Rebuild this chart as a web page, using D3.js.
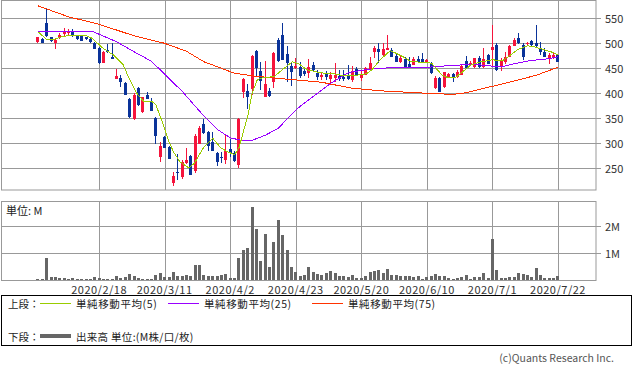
<!DOCTYPE html>
<html>
<head>
<meta charset="utf-8">
<script src="https://cdn.jsdelivr.net/npm/d3@7"></script>
<style>
body { margin: 0; background: #fff; }
text { font-family: "Noto Sans CJK JP", "Noto Sans", sans-serif; }
</style>
</head>
<body>
<div id="chart"></div>
<script>
// daily candles, index 0 = first trading day shown
const opens = [503,509,541,512,501,510,519,521,522,515,515,512,508,501,491,461,487,472,429,431,
  421,389,348,410,363,397,383,350,273,313,293,221,243,232,260,275,245,299,339,322,
  303,281,273,267,288,280,257,403,405,408,485,445,393,405,423,506,517,479,455,450,
  453,445,440,457,440,432,439,429,430,435,432,436,426,449,430,437,447,482,489,477,
  487,487,475,462,469,459,457,469,469,461,460,410,430,412,432,439,432,437,465,459,
  452,470,452,477,487,497,452,463,473,495,511,497,498,505,501,490,483,470,470,477];
const highs = [512,510,571,513,508,520,531,529,528,516,516,513,510,503,492,484,499,500,449,436,
  423,391,400,412,393,403,390,352,303,315,295,242,278,267,291,277,318,335,349,324,
  323,283,283,317,308,284,350,430,419,477,487,463,465,411,483,510,541,495,463,470,
  462,451,468,463,447,443,445,443,461,447,447,457,455,453,445,453,472,495,500,500,
  517,490,480,475,473,472,473,475,480,468,463,435,432,443,440,441,446,456,475,465,
  471,475,490,478,537,500,470,482,496,510,521,500,503,507,537,503,490,480,480,479];
const lows = [500,500,512,503,488,509,515,516,513,507,504,506,501,488,459,460,480,469,428,412,
  396,350,347,375,360,388,364,298,263,290,268,215,227,228,258,236,240,298,318,285,
  284,255,261,259,273,262,251,391,369,397,433,407,392,393,411,462,466,422,415,448,
  430,435,430,443,427,427,427,420,423,425,425,427,423,436,425,436,446,470,460,475,
  486,472,462,461,452,450,456,462,462,460,438,409,402,411,431,423,431,436,449,458,
  451,451,451,458,453,445,445,458,472,494,499,467,496,495,493,477,472,459,468,463];
const closes = [512,501,515,504,507,517,525,523,515,508,505,508,503,489,460,483,482,469,435,423,
  397,352,397,377,392,389,365,315,295,291,269,235,240,262,267,237,315,331,320,294,
  285,263,272,285,281,265,349,429,393,475,451,425,419,395,481,465,467,460,443,455,
  435,439,453,447,432,437,432,436,437,429,428,429,445,437,439,450,461,491,482,489,
  491,473,463,470,453,453,469,463,463,467,440,430,403,442,439,430,443,455,450,461,
  470,452,468,459,493,447,467,473,495,507,500,473,501,497,495,483,473,477,477,463];
// volume, millions of shares
const volumes = [0.05,0.05,0.83,0.12,0.12,0.10,0.09,0.06,0.09,0.06,0.03,0.03,0.06,0.12,0.09,0.06,0.06,0.06,0.16,0.10,
  0.13,0.23,0.16,0.09,0.06,0.05,0.05,0.20,0.27,0.12,0.12,0.31,0.17,0.17,0.20,0.17,0.57,0.57,0.19,0.17,
  0.17,0.15,0.21,0.23,0.09,0.09,0.83,1.11,1.20,2.70,1.89,0.71,1.71,0.49,1.41,2.22,1.67,1.10,0.49,0.30,
  0.16,0.19,0.48,0.30,0.22,0.20,0.27,0.33,0.27,0.17,0.15,0.11,0.19,0.10,0.09,0.15,0.30,0.35,0.37,0.27,
  0.41,0.19,0.19,0.17,0.16,0.15,0.11,0.15,0.03,0.12,0.17,0.22,0.14,0.15,0.09,0.05,0.10,0.12,0.19,0.05,
  0.12,0.12,0.25,0.09,1.52,0.37,0.10,0.07,0.12,0.12,0.25,0.22,0.19,0.12,0.45,0.19,0.10,0.10,0.10,0.15];

// moving averages: [index, value]
const ma5 = [[0,523],[2,508],[3.5,507],[5,512],[7.3,516],[9.6,516],[11.1,515],[12.4,510],[13.4,502],
  [14.9,490],[17.2,477],[19.5,457],[21,427],[22.6,400],[24.2,384],[26,384],[27,377],[28.7,337],
  [30,303],[31,283],[32.5,263],[34.5,251],[35.8,260],[38,293],[40,310],[41.8,291],[43.4,283],
  [45,277],[46.1,293],[47.1,327],[48,353],[49,400],[50.2,427],[51.7,432],[54,433],[55.9,447],
  [58.2,463],[59.7,459],[61.6,447],[64.7,441],[67.7,439],[70,435],[71.8,435],[75.2,439],[76.4,447],
  [78.3,467],[80.6,485],[81.7,481],[83.6,473],[85.5,463],[89,462],[90.1,460],[92.4,437],[93.9,431],
  [95.6,432],[97.2,443],[99.1,457],[101.4,463],[104,467],[106.3,465],[108.2,477],[109.7,487],
  [112,495],[113.6,493],[115.5,488],[117.4,483],[119,477]];
const ma25 = [[0,524],[12.5,524],[14,518],[18,503],[22,483],[26,464],[29,438],[33,404],[37,364],
  [41,328],[44,311],[47,305],[49,306],[52,316],[55,330],[58,358],[60,374],[64,400],[67,420],
  [71,441],[74,446],[77,449],[82,452],[89,452],[95,456],[100,458],[103,455],[106,453],[109,459],
  [113,466],[116,468],[119,473]];
const ma75 = [[0,575],[7,553],[14,538],[22,515],[29,500],[34,484],[38,463],[42,450],[45,440],
  [50,434],[56,429],[60,426],[65,422],[69,415],[72,410],[76,407],[80,404],[85,402],[90,399.5],
  [95,398],[98,401],[102,410],[106,418],[110,427],[114,436],[119,452]];

const tickIndex = [14, 29, 44, 59, 74, 89, 104, 119];
const tickLabels = ['2020/2/18', '2020/3/11', '2020/4/2', '2020/4/23', '2020/5/20', '2020/6/10', '2020/7/1', '2020/7/22'];
const priceTicks = [250, 300, 350, 400, 450, 500, 550];
const volumeTicks = [1, 2];

const UP = '#f5143c', DOWN = '#0a3399', GRID = '#999';

function drawChart() {
    const svg = d3.select('#chart')
        .append('svg')
        .attr('width', 633)
        .attr('height', 373);

    const x = d3.scaleLinear().domain([-8.45, 127.7]).range([1, 596]);
    const y = d3.scaleLinear().domain([206.6, 586.6]).range([190, 0]);
    const yv = d3.scaleLinear().domain([0, 2.88]).range([280.3, 201.7]);

    // --- main panel frame & grid
    const grid = svg.append('g').attr('stroke', GRID).attr('stroke-width', 1).attr('fill', 'none');
    grid.append('rect').attr('x', 1.5).attr('y', 0.5).attr('width', 594.5).attr('height', 189.5);
    grid.selectAll('.hg')
        .data(priceTicks)
        .enter()
        .append('line')
        .attr('x1', 1.5).attr('x2', 601)
        .attr('y1', d => Math.round(y(d)) + 0.5)
        .attr('y2', d => Math.round(y(d)) + 0.5);
    grid.selectAll('.vg')
        .data(tickIndex)
        .enter()
        .append('line')
        .attr('x1', d => Math.round(x(d)) + 0.5)
        .attr('x2', d => Math.round(x(d)) + 0.5)
        .attr('y1', 0).attr('y2', 190);

    // --- volume panel frame & grid
    grid.append('rect').attr('x', 1.5).attr('y', 201.5).attr('width', 594.5).attr('height', 79);
    grid.selectAll('.vhg')
        .data(volumeTicks)
        .enter()
        .append('line')
        .attr('x1', 1.5).attr('x2', 601)
        .attr('y1', d => Math.round(yv(d)) + 0.5)
        .attr('y2', d => Math.round(yv(d)) + 0.5);
    grid.selectAll('.vvg')
        .data(tickIndex)
        .enter()
        .append('line')
        .attr('x1', d => Math.round(x(d)) + 0.5)
        .attr('x2', d => Math.round(x(d)) + 0.5)
        .attr('y1', 201.5).attr('y2', 280.5);

    // --- candles
    const candles = closes.map((c, i) => ({ i, o: opens[i], h: highs[i], l: lows[i], c }));
    const cg = svg.append('g').attr('class', 'candles').attr('shape-rendering', 'crispEdges');
    const cand = cg.selectAll('g').data(candles).enter().append('g')
        .attr('fill', d => d.c >= d.o ? UP : DOWN);
    cand.append('rect')
        .attr('x', d => Math.round(x(d.i) - 1.5) + 1)
        .attr('width', 1)
        .attr('y', d => y(d.h))
        .attr('height', d => y(d.l) - y(d.h));
    cand.append('rect')
        .attr('x', d => Math.round(x(d.i) - 1.5))
        .attr('width', 3)
        .attr('y', d => y(Math.max(d.o, d.c)))
        .attr('height', d => Math.max(1, Math.abs(y(d.o) - y(d.c))));

    // --- moving averages
    const line = d3.line().x(d => x(d[0])).y(d => y(d[1]));
    [[ma75, '#ff3300'], [ma25, '#9900ff'], [ma5, '#99cc00']].forEach(([data, color]) => {
        svg.append('path')
            .attr('d', line(data))
            .attr('fill', 'none')
            .attr('stroke', color)
            .attr('stroke-width', 1)
            .attr('shape-rendering', 'crispEdges');
    });

    // --- volume bars
    svg.append('g').attr('class', 'volume')
        .attr('shape-rendering', 'crispEdges')
        .selectAll('rect')
        .data(volumes)
        .enter()
        .append('rect')
        .attr('x', (v, i) => Math.round(x(i) - 1.5))
        .attr('width', 3)
        .attr('y', v => yv(v))
        .attr('height', v => yv(0) - yv(v))
        .attr('fill', '#666');

    // --- axis labels
    svg.selectAll('.pl')
        .data(priceTicks)
        .enter()
        .append('text')
        .attr('x', 605).attr('y', d => y(d))
        .attr('dominant-baseline', 'central')
        .attr('font-size', 11).attr('fill', '#333')
        .text(d => d);
    svg.selectAll('.vl')
        .data(volumeTicks)
        .enter()
        .append('text')
        .attr('x', 605).attr('y', d => yv(d))
        .attr('dominant-baseline', 'central')
        .attr('font-size', 11).attr('fill', '#333')
        .text(d => d + 'M');
    svg.selectAll('.xl')
        .data(tickIndex)
        .enter()
        .append('text')
        .attr('x', d => x(d)).attr('y', 289)
        .attr('text-anchor', 'middle')
        .attr('dominant-baseline', 'central')
        .attr('font-size', 11).attr('letter-spacing', 0.5).attr('fill', '#333')
        .text((d, i) => tickLabels[i]);
    svg.append('text')
        .attr('x', 6).attr('y', 209.5)
        .attr('dominant-baseline', 'central')
        .attr('font-size', 11).attr('fill', '#222')
        .text('単位: M');

    // --- legend
    svg.append('rect')
        .attr('x', 1.5).attr('y', 295.5).attr('width', 630).attr('height', 50)
        .attr('fill', 'none').attr('stroke', '#000').attr('stroke-width', 1);
    const lg = svg.append('g').attr('font-size', 10.5).attr('fill', '#222');
    lg.append('text').attr('x', 8).attr('y', 303.5).attr('dominant-baseline', 'central').text('上段：');
    lg.append('text').attr('x', 8).attr('y', 336).attr('dominant-baseline', 'central').text('下段：');
    const items = [
        { x0: 40, tx: 76, color: '#99cc00', label: '単純移動平均(5)' },
        { x0: 168, tx: 204, color: '#9900ff', label: '単純移動平均(25)' },
        { x0: 312, tx: 348, color: '#ff3300', label: '単純移動平均(75)' }
    ];
    items.forEach(it => {
        lg.append('line').attr('x1', it.x0).attr('x2', it.x0 + 31)
            .attr('y1', 303.5).attr('y2', 303.5)
            .attr('stroke', it.color).attr('stroke-width', 1);
        lg.append('text').attr('x', it.tx).attr('y', 303.5)
            .attr('dominant-baseline', 'central').attr('letter-spacing', 0.6)
            .text(it.label);
    });
    lg.append('line').attr('x1', 40).attr('x2', 71).attr('y1', 336).attr('y2', 336)
        .attr('stroke', '#666').attr('stroke-width', 4);
    lg.append('text').attr('x', 76).attr('y', 336)
        .attr('dominant-baseline', 'central').attr('letter-spacing', 0.3)
        .text('出来高 単位:(M株/口/枚)');

    svg.append('text')
        .attr('x', 614).attr('y', 357)
        .attr('text-anchor', 'end')
        .attr('dominant-baseline', 'central')
        .attr('font-size', 10.5).attr('fill', '#555')
        .text('(c)Quants Research Inc.');
}

drawChart();
</script>
</body>
</html>
